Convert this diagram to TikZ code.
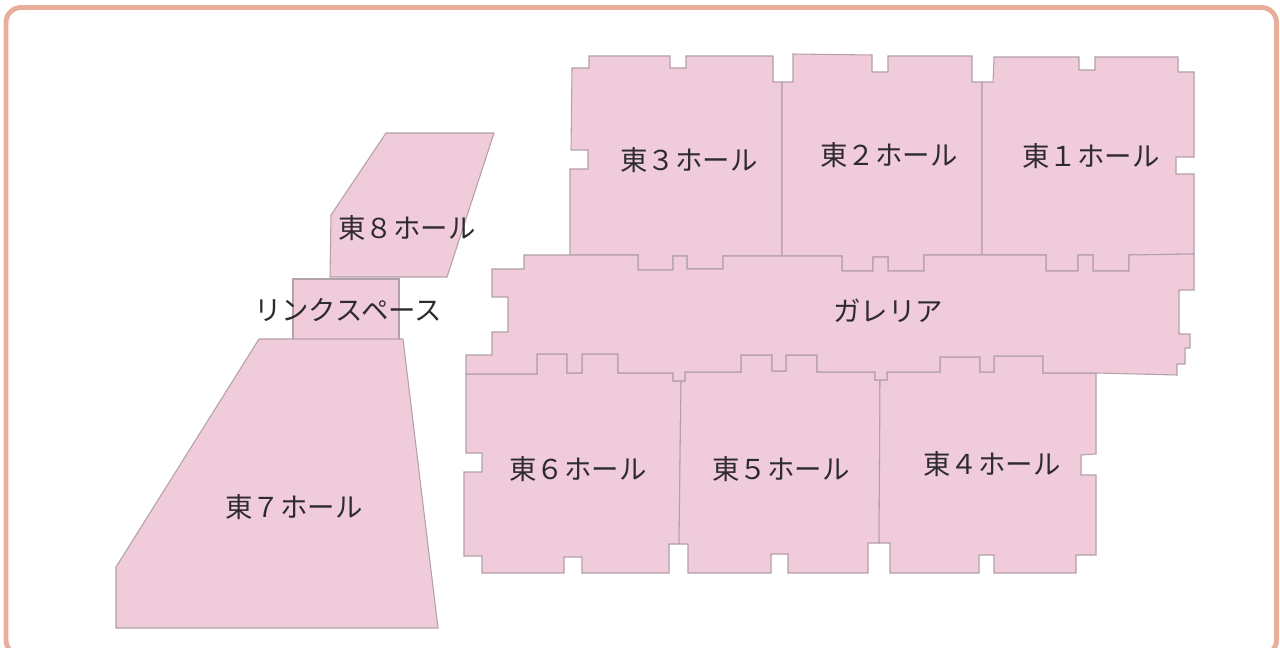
\documentclass[tikz,border=0pt]{standalone}
\usepackage{fontspec}
\setmainfont{Noto Sans CJK JP}
\definecolor{hallfill}{HTML}{F0CBDA}
\definecolor{halledge}{HTML}{B3A0AB}
\definecolor{frameline}{HTML}{E8AE9B}
\definecolor{labeltext}{HTML}{2E2B2E}

\begin{document}
\begin{tikzpicture}[x=0.02cm,y=-0.02cm,
    hall/.style={fill=hallfill,draw=halledge,line width=0.6pt,line join=miter},
    hallname/.style={text=labeltext,font=\fontsize{15.6}{18}\selectfont,inner sep=0pt}]
        \useasboundingbox (0,0) rectangle (1280,648);
        \clip (0,0) rectangle (1280,648);

        % Frame
        \draw[draw=frameline,line width=2.8pt,rounded corners=0.3cm,fill=white] (6,7.5) rectangle (1276.5,655);

        % Upper row
        \draw[hall] (572,68) -- (589,68) -- (589,56) -- (670,56) -- (670,68) -- (686,68) -- (686,56) -- (773,56) -- (773,82) -- (782,82) -- (782,256) -- (723,256) -- (723,269) -- (687,269) -- (687,256) -- (673,256) -- (673,270) -- (638,270) -- (638,255) -- (570,255) -- (570,169) -- (588,169) -- (588,150) -- (571,150) -- cycle;
        \draw[hall] (782,82) -- (793,82) -- (793,54) -- (872,55) -- (872,72) -- (888,72) -- (888,56) -- (972,56) -- (972,82) -- (982,82) -- (982,255) -- (924,255) -- (924,271) -- (888,271) -- (888,257) -- (873,257) -- (873,271) -- (842,271) -- (842,256) -- (782,256) -- cycle;
        \draw[hall] (982,82) -- (993,82) -- (994,57) -- (1079,57) -- (1079,70) -- (1095,70) -- (1095,57) -- (1178,57) -- (1178,72) -- (1194,72) -- (1194,157) -- (1176,157) -- (1176,174) -- (1194,174) -- (1194,254) -- (1129,255) -- (1129,271) -- (1093,271) -- (1093,255) -- (1078,255) -- (1078,271) -- (1046,271) -- (1046,255) -- (982,255) -- cycle;

        % Lower row
        \draw[hall] (466,374) -- (537,374) -- (537,354) -- (567,354) -- (567,373) -- (582,373) -- (582,354) -- (618,354) -- (618,373) -- (673,373) -- (673,381) -- (681,381) -- (679,544) -- (669,544) -- (669,573) -- (582,573) -- (582,557) -- (564,557) -- (564,573) -- (482,573) -- (482,556) -- (464,556) -- (464,472) -- (482,472) -- (482,453) -- (466,453) -- cycle;
        \draw[hall] (681,381) -- (685,381) -- (685,372) -- (741,372) -- (741,355) -- (772,355) -- (772,371) -- (786,371) -- (786,355) -- (817,355) -- (817,372) -- (875,372) -- (875,380) -- (880,380) -- (879,543) -- (868,543) -- (868,573) -- (788,573) -- (788,554) -- (771,554) -- (771,573) -- (688,573) -- (688,544) -- (679,544) -- cycle;
        \draw[hall] (880,380) -- (887,380) -- (887,372) -- (940,372) -- (940,357) -- (980,357) -- (980,372) -- (994,372) -- (994,356) -- (1043,356) -- (1043,373) -- (1096,373) -- (1096,454) -- (1081,455) -- (1081,475) -- (1096,475) -- (1096,555) -- (1076,555) -- (1076,573) -- (994,573) -- (994,555) -- (979,555) -- (979,573) -- (890,573) -- (890,543) -- (879,543) -- cycle;

        % Gallery
        \draw[hall] (524,255) -- (638,255) -- (638,270) -- (673,270) -- (673,256) -- (687,256) -- (687,269) -- (723,269) -- (723,256) -- (842,256) -- (842,271) -- (873,271) -- (873,257) -- (888,257) -- (888,271) -- (924,271) -- (924,255) -- (1046,255) -- (1046,271) -- (1078,271) -- (1078,255) -- (1093,255) -- (1093,271) -- (1129,271) -- (1129,255) -- (1194,254) -- (1194,290) -- (1179,290) -- (1179,334) -- (1190,334) -- (1190,348) -- (1185,348) -- (1185,364) -- (1177,364) -- (1177,375) -- (1096,373) -- (1043,373) -- (1043,356) -- (994,356) -- (994,372) -- (980,372) -- (980,357) -- (940,357) -- (940,372) -- (887,372) -- (887,380) -- (875,380) -- (875,372) -- (817,372) -- (817,355) -- (786,355) -- (786,371) -- (772,371) -- (772,355) -- (741,355) -- (741,372) -- (685,372) -- (685,381) -- (673,381) -- (673,373) -- (618,373) -- (618,354) -- (582,354) -- (582,373) -- (567,373) -- (567,354) -- (537,354) -- (537,374) -- (466,374) -- (466,355) -- (492,355) -- (492,332) -- (508,332) -- (508,297) -- (492,297) -- (492,269) -- (524,269) -- cycle;

        % West side
        \draw[hall] (386,133) -- (494,133) -- (447,277) -- (330,277) -- (331,215) -- cycle;
        \draw[hall] (293,279) rectangle (399,340);
        \draw[hall] (259,339) -- (403,339) -- (438,628) -- (116,628) -- (116,567) -- cycle;

        % Names
        \foreach \name/\x/\y/\n in {e3/689/160/東３ホール, e2/889/155/東２ホール, e1/1091/156/東１ホール,
                                   e8/407/228/東８ホール, link/348/310/リンクスペース, gallery/888/311/ガレリア,
                                   e6/578/469/東６ホール, e5/781/469/東５ホール, e4/992/464/東４ホール, e7/294/507/東７ホール} {
            \node[hallname] (\name) at (\x,\y) {\n};
        }
    \end{tikzpicture}
\end{document}
